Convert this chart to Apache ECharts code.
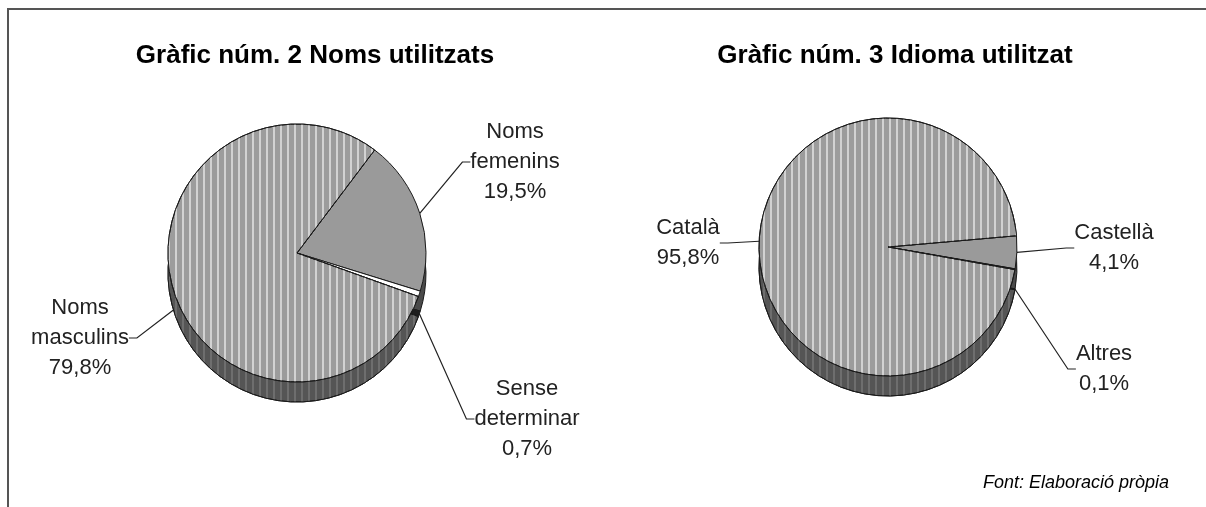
<!DOCTYPE html>
<html>
<head>
<meta charset="utf-8">
<title>Gràfics 2 i 3</title>
<script src="https://cdn.jsdelivr.net/npm/echarts@6/dist/echarts.min.js"></script>
<style>
  html, body { margin: 0; padding: 0; background: #fff; }
  #chart { width: 1206px; height: 507px; }
</style>
</head>
<body>
<div id="chart"></div>
<script>
// dades
const noms = ['Noms\nfemenins', 'Sense\ndeterminar', 'Noms\nmasculins'];
const nomsValors = [19.5, 0.7, 79.8];
const idiomes = ['Castellà', 'Altres', 'Català'];
const idiomesValors = [4.1, 0.1, 95.8];

const titol2 = 'Gràfic núm. 2 Noms utilitzats';
const titol3 = 'Gràfic núm. 3 Idioma utilitzat';
const font = 'Font: Elaboració pròpia';

// on van les etiquetes (centre del bloc de text)
const posNoms = [[515, 162], [527, 419], [80, 338]];
const posIdiomes = [[1114, 248], [1104, 369], [688, 243]];
// la línia surt de la cara de dalt (true) o del costat (false)
const daltNoms = [true, false, false];
const daltIdiomes = [true, false, true];

const FF = '"Liberation Sans", Arial, sans-serif';

const ratlles = (c) => ({
  symbol: 'rect', symbolSize: 1,
  dashArrayX: [2, 5], dashArrayY: [1, 0],
  rotation: 0, color: c
});

// colors de la cara de dalt i del costat
const dalt1 = [
  { color: '#9a9a9a' },
  { color: '#ffffff' },
  { color: '#9c9c9c', decal: ratlles('#d2d2d2') }
];
const costat1 = [
  { color: '#4a4a4a' },
  { color: '#1e1e1e' },
  { color: '#555555', decal: ratlles('#6e6e6e') }
];
const dalt2 = [
  { color: '#9a9a9a' },
  { color: '#222222' },
  { color: '#9c9c9c', decal: ratlles('#d2d2d2') }
];
const costat2 = [
  { color: '#4a4a4a' },
  { color: '#1e1e1e' },
  { color: '#555555', decal: ratlles('#6e6e6e') }
];

function fmt(v) { return v.toFixed(1).replace('.', ',') + '%'; }

function dades(names, vals, styles, quins, top) {
  return names.map((n, i) => ({
    name: n, value: vals[i], itemStyle: styles[i],
    label: { show: quins[i] === top },
    labelLine: { show: quins[i] === top }
  }));
}

const R = 129;

function pastis(cx, cy, names, vals, styles, start, pos, quins, top) {
  return {
    type: 'pie', silent: true, clockwise: true, startAngle: start,
    center: [cx, top ? cy : cy + 20], radius: R,
    avoidLabelOverlap: false,
    itemStyle: { borderColor: '#1a1a1a', borderWidth: 1 },
    label: {
      position: 'outside',
      formatter: (p) => p.name + '\n' + fmt(p.value),
      fontFamily: FF, fontSize: 22, lineHeight: 30, color: '#222',
      align: 'center'
    },
    labelLine: {
      length: 10, length2: 8,
      lineStyle: { color: '#222', width: 1.2 }
    },
    labelLayout: (p) => ({
      x: pos[p.dataIndex][0], y: pos[p.dataIndex][1],
      align: 'center', verticalAlign: 'middle'
    }),
    data: dades(names, vals, styles, quins, top)
  };
}

const chart = echarts.init(document.getElementById('chart'));
chart.setOption({
  animation: false,
  backgroundColor: '#fff',
  title: [
    { text: titol2, left: 315, top: 43, textAlign: 'center', padding: 0,
      textStyle: { fontFamily: FF, fontSize: 26, fontWeight: 'bold', color: '#000' } },
    { text: titol3, left: 895, top: 43, textAlign: 'center', padding: 0,
      textStyle: { fontFamily: FF, fontSize: 26, fontWeight: 'bold', color: '#000' } },
    { text: font, left: 1076, top: 474, textAlign: 'center', padding: 0,
      textStyle: { fontFamily: FF, fontSize: 18, fontStyle: 'italic', fontWeight: 'normal', color: '#000' } }
  ],
  graphic: [{
    type: 'polyline', silent: true,
    shape: { points: [[8, 600], [8, 9], [1300, 9]] },
    style: { fill: 'none', stroke: '#555', lineWidth: 2 }
  }],
  series: [
    pastis(297, 253, noms, nomsValors, costat1, 53, posNoms, daltNoms, false),
    pastis(297, 253, noms, nomsValors, dalt1, 53, posNoms, daltNoms, true),
    pastis(888, 247, idiomes, idiomesValors, costat2, 5, posIdiomes, daltIdiomes, false),
    pastis(888, 247, idiomes, idiomesValors, dalt2, 5, posIdiomes, daltIdiomes, true)
  ]
});
</script>
</body>
</html>
